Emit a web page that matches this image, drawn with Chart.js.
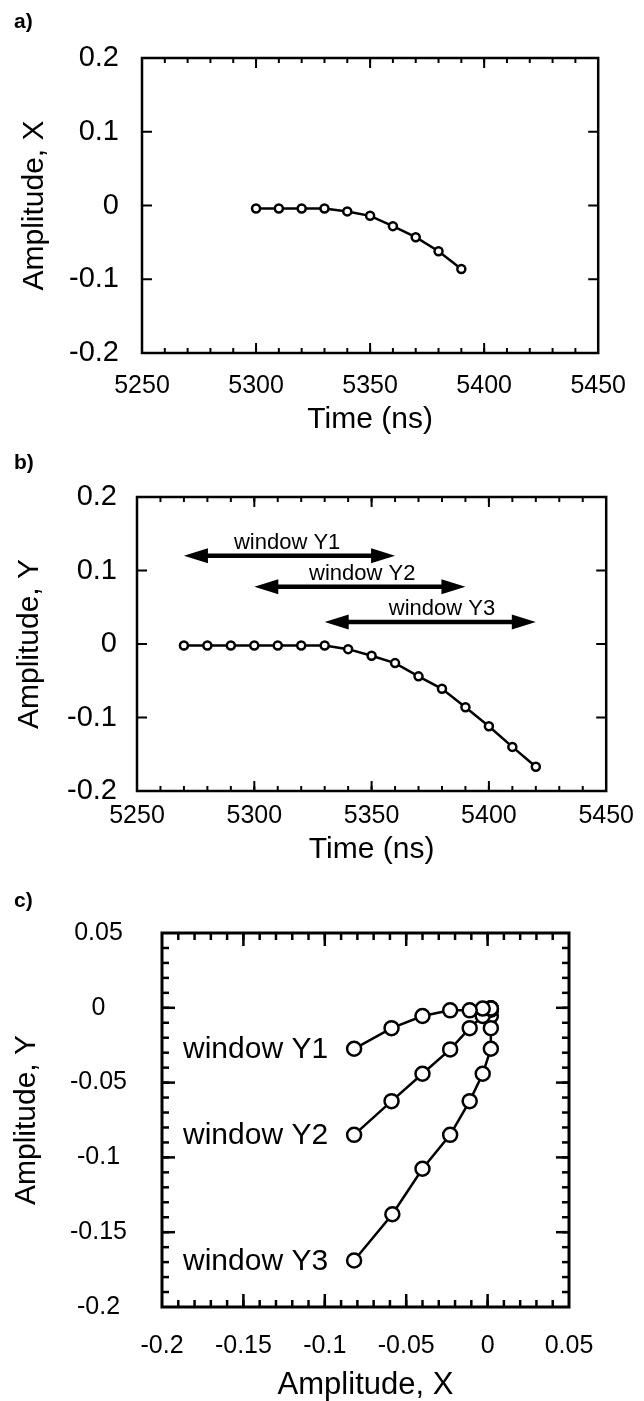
<!DOCTYPE html>
<html>
<head>
<meta charset="utf-8">
<title>Amplitudes X e Y</title>
<script src="https://cdn.jsdelivr.net/npm/chart.js@4.4.1/dist/chart.umd.min.js"></script>
<style>
  body { margin: 0; background: #fff; overflow: hidden; }
  #pagina { position: relative; width: 644px; height: 1401px; overflow: hidden; }
  canvas { position: absolute; left: 0; }
  .rotulo { position: absolute; left: 14px; font: bold 21px 'Liberation Sans', Arial, sans-serif; line-height: 21px; }
</style>
</head>
<body>
<div id="pagina">
  <canvas id="grafico-a" width="644" height="440" style="top:0"></canvas>
  <canvas id="grafico-b" width="644" height="430" style="top:440px"></canvas>
  <canvas id="grafico-c" width="644" height="540" style="top:870px"></canvas>
  <div class="rotulo" style="top:10px">a)</div>
  <div class="rotulo" style="top:451px">b)</div>
  <div class="rotulo" style="top:889px">c)</div>
</div>
<script>
// Painel a) - amplitude X no tempo
const tempoA = [5300, 5310, 5320, 5330, 5340, 5350, 5360, 5370, 5380, 5390];
const amplitudeX = [-0.004, -0.004, -0.004, -0.004, -0.008, -0.014, -0.028, -0.043, -0.062, -0.086];

// Painel b) - amplitude Y no tempo
const tempoB = [5270, 5280, 5290, 5300, 5310, 5320, 5330, 5340, 5350, 5360, 5370, 5380, 5390, 5400, 5410, 5420];
const amplitudeY = [-0.002, -0.002, -0.002, -0.002, -0.002, -0.002, -0.002, -0.007, -0.016, -0.026, -0.044, -0.061, -0.086, -0.112, -0.140, -0.167];

// Janelas marcadas com setas no painel b)
const janelas = ['window Y1', 'window Y2', 'window Y3'];
const janelaInicio = [5270, 5300, 5330];
const janelaFim = [5360, 5390, 5420];
const janelaNivel = [0.12, 0.078, 0.03];
const janelaTextoX = [5314, 5346, 5380];

// Painel c) - Y contra X para cada janela
const janelaY1X = [0.002, 0.002, 0.002, 0.002, -0.003, -0.011, -0.023, -0.040, -0.059, -0.082];
const janelaY1Y = [-0.0005, -0.0005, -0.0005, -0.0005, -0.0005, -0.0017, -0.0017, -0.0055, -0.0136, -0.0274];
const janelaY2X = [0.002, 0.002, 0.002, 0.002, -0.003, -0.011, -0.023, -0.040, -0.059, -0.082];
const janelaY2Y = [-0.001, -0.001, -0.001, -0.001, -0.0055, -0.0136, -0.0278, -0.0441, -0.0624, -0.0849];
const janelaY3X = [0.002, 0.002, 0.002, 0.002, -0.003, -0.011, -0.023, -0.040, -0.0585, -0.082];
const janelaY3Y = [-0.001, -0.0055, -0.0136, -0.0274, -0.0441, -0.0624, -0.0849, -0.1076, -0.138, -0.1689];

// Marcas dos eixos
const ticksTempo = [5250, 5300, 5350, 5400, 5450];
const ticksAmplitude = [-0.2, -0.1, 0, 0.1, 0.2];
const ticksPlano = [-0.2, -0.15, -0.1, -0.05, 0, 0.05];

Chart.defaults.font.family = "'Liberation Sans', Arial, sans-serif";
Chart.defaults.color = '#000';

function pontos(xs, ys) {
    return xs.map((x, i) => ({ x: x, y: ys[i] }));
}

function formatarNumero(v) {
    const n = Number(Number(v).toFixed(3));
    return n === 0 ? '0' : String(n);
}

function linha(ctx, x1, y1, x2, y2) {
    ctx.beginPath();
    ctx.moveTo(x1, y1);
    ctx.lineTo(x2, y2);
    ctx.stroke();
}

// percorre os valores internos da escala, de passo em passo
function marcas(escala, passo, desenhar) {
    const n = Math.round((escala.max - escala.min) / passo);
    for (let i = 1; i < n; i++) {
        desenhar(escala.getPixelForValue(escala.min + i * passo));
    }
}

// Moldura do gráfico com marcas para dentro nos quatro lados
const pluginMoldura = {
    id: 'moldura',
    afterDraw(chart, args, o) {
        const { ctx, chartArea: a, scales: { x, y } } = chart;
        ctx.save();
        ctx.strokeStyle = '#000';
        ctx.lineWidth = o.espessuraMarca;
        const marcasX = (passo, c) => marcas(x, passo, px => {
            linha(ctx, px, a.bottom, px, a.bottom - c);
            linha(ctx, px, a.top, px, a.top + c);
        });
        const marcasY = (passo, c) => marcas(y, passo, py => {
            linha(ctx, a.left, py, a.left + c, py);
            linha(ctx, a.right, py, a.right - c, py);
        });
        if (o.menorX) marcasX(o.menorX, o.curta);
        marcasX(o.maiorX, o.longa);
        if (o.menorY) marcasY(o.menorY, o.curta);
        marcasY(o.maiorY, o.longa);
        ctx.lineWidth = o.espessuraMoldura;
        ctx.strokeRect(a.left, a.top, a.right - a.left, a.bottom - a.top);
        ctx.restore();
    }
};
Chart.register(pluginMoldura);

function eixoX(o) {
    return {
        type: 'linear',
        min: o.min,
        max: o.max,
        afterBuildTicks: e => { e.ticks = o.marcas.map(v => ({ value: v })); },
        afterFit: e => { e.height = o.altura; },
        grid: { display: false, drawTicks: false },
        border: { display: false },
        ticks: { padding: o.padding, font: { size: 25 }, maxRotation: 0, autoSkip: false, callback: v => formatarNumero(v) },
        title: { display: true, text: o.titulo, font: { size: o.tamTitulo }, padding: { top: 0, bottom: o.paddingTitulo } }
    };
}

function eixoY(o) {
    return {
        type: 'linear',
        min: o.min,
        max: o.max,
        afterBuildTicks: e => { e.ticks = o.marcas.map(v => ({ value: v })); },
        afterFit: e => { e.width = o.largura; },
        grid: { display: false, drawTicks: false },
        border: { display: false },
        ticks: { padding: o.padding, crossAlign: o.alinhar, font: { size: o.tamFonte }, autoSkip: false, callback: v => formatarNumero(v) },
        title: { display: true, text: o.titulo, font: { size: 30 }, padding: { top: o.paddingTitulo, bottom: 0 } }
    };
}

function serie(xs, ys, raio, espessura) {
    return {
        data: pontos(xs, ys),
        borderColor: '#000',
        borderWidth: espessura,
        pointRadius: raio,
        pointBorderWidth: espessura,
        pointBackgroundColor: '#fff',
        pointBorderColor: '#000',
        tension: 0,
        fill: false
    };
}

function opcoesBase(padding, moldura, escalas) {
    return {
        responsive: false,
        animation: false,
        layout: { padding: padding },
        plugins: { legend: { display: false }, tooltip: { enabled: false }, moldura: moldura },
        scales: escalas
    };
}

function graficoA() {
    const ctx = document.getElementById('grafico-a').getContext('2d');
    new Chart(ctx, {
        type: 'line',
        data: { datasets: [serie(tempoA, amplitudeX, 4, 2.5)] },
        options: opcoesBase(
            { left: 0, top: 58, right: 36, bottom: 0 },
            { espessuraMarca: 2, espessuraMoldura: 2.5, maiorX: 50, menorX: 10, maiorY: 0.1, curta: 5, longa: 10 },
            {
                x: eixoX({ min: 5250, max: 5450, marcas: ticksTempo, altura: 87, padding: 18, titulo: 'Time (ns)', tamTitulo: 30, paddingTitulo: 2 }),
                y: eixoY({ min: -0.2, max: 0.2, marcas: ticksAmplitude, largura: 142, padding: 23, alinhar: 'near', tamFonte: 29, titulo: 'Amplitude, X', paddingTitulo: 17 })
            })
    });
}

function graficoB() {
    const ctx = document.getElementById('grafico-b').getContext('2d');
    // Setas das janelas e seus textos
    const pluginJanelas = {
        id: 'janelas',
        afterDraw(chart) {
            const { ctx, scales: { x, y } } = chart;
            ctx.save();
            ctx.fillStyle = '#000';
            ctx.strokeStyle = '#000';
            ctx.font = "22px 'Liberation Sans', Arial, sans-serif";
            ctx.textAlign = 'center';
            ctx.textBaseline = 'alphabetic';
            janelas.forEach((nome, i) => {
                const x1 = x.getPixelForValue(janelaInicio[i]);
                const x2 = x.getPixelForValue(janelaFim[i]);
                const py = y.getPixelForValue(janelaNivel[i]);
                const ponta = 24, meia = 7.5;
                ctx.lineWidth = 4.5;
                linha(ctx, x1 + ponta - 2, py, x2 - ponta + 2, py);
                ctx.beginPath();
                ctx.moveTo(x1, py); ctx.lineTo(x1 + ponta, py - meia); ctx.lineTo(x1 + ponta, py + meia);
                ctx.closePath(); ctx.fill();
                ctx.beginPath();
                ctx.moveTo(x2, py); ctx.lineTo(x2 - ponta, py - meia); ctx.lineTo(x2 - ponta, py + meia);
                ctx.closePath(); ctx.fill();
                ctx.fillText(nome, x.getPixelForValue(janelaTextoX[i]), py - 7);
            });
            ctx.restore();
        }
    };
    new Chart(ctx, {
        type: 'line',
        data: { datasets: [serie(tempoB, amplitudeY, 4, 2.5)] },
        options: opcoesBase(
            { left: 0, top: 57, right: 37, bottom: 0 },
            { espessuraMarca: 2, espessuraMoldura: 2.5, maiorX: 50, menorX: 10, maiorY: 0.1, curta: 5, longa: 10 },
            {
                x: eixoX({ min: 5250, max: 5450, marcas: ticksTempo, altura: 79, padding: 10, titulo: 'Time (ns)', tamTitulo: 30, paddingTitulo: 2 }),
                y: eixoY({ min: -0.2, max: 0.2, marcas: ticksAmplitude, largura: 137, padding: 20, alinhar: 'near', tamFonte: 29, titulo: 'Amplitude, Y', paddingTitulo: 12 })
            }),
        plugins: [pluginJanelas]
    });
}

function graficoC() {
    const ctx = document.getElementById('grafico-c').getContext('2d');
    // Nome de cada janela à esquerda do último ponto
    const pluginNomes = {
        id: 'nomes',
        afterDraw(chart) {
            const { ctx } = chart;
            ctx.save();
            ctx.fillStyle = '#000';
            ctx.font = "30px 'Liberation Sans', Arial, sans-serif";
            ctx.textAlign = 'right';
            ctx.textBaseline = 'middle';
            chart.getSortedVisibleDatasetMetas().forEach((meta, i) => {
                const ultimo = meta.data[meta.data.length - 1];
                ctx.fillText(janelas[i], ultimo.x - 26, ultimo.y + 1);
            });
            ctx.restore();
        }
    };
    new Chart(ctx, {
        type: 'line',
        data: {
            datasets: [
                serie(janelaY1X, janelaY1Y, 7, 2.5),
                serie(janelaY2X, janelaY2Y, 7, 2.5),
                serie(janelaY3X, janelaY3Y, 7, 2.5)
            ]
        },
        options: opcoesBase(
            { left: 0, top: 63, right: 75, bottom: 0 },
            { espessuraMarca: 2.5, espessuraMoldura: 3, maiorX: 0.05, menorX: 0.01, maiorY: 0.05, menorY: 0.01, curta: 7, longa: 13 },
            {
                x: eixoX({ min: -0.2, max: 0.05, marcas: ticksPlano, altura: 103, padding: 24, titulo: 'Amplitude, X', tamTitulo: 31, paddingTitulo: 6 }),
                y: eixoY({ min: -0.2, max: 0.05, marcas: ticksPlano, largura: 162, padding: 35, alinhar: 'center', tamFonte: 25, titulo: 'Amplitude, Y', paddingTitulo: 9 })
            }),
        plugins: [pluginNomes]
    });
}

// Desenhar os três painéis ao carregar a página
document.addEventListener('DOMContentLoaded', () => {
    graficoA();
    graficoB();
    graficoC();
});
</script>
</body>
</html>
